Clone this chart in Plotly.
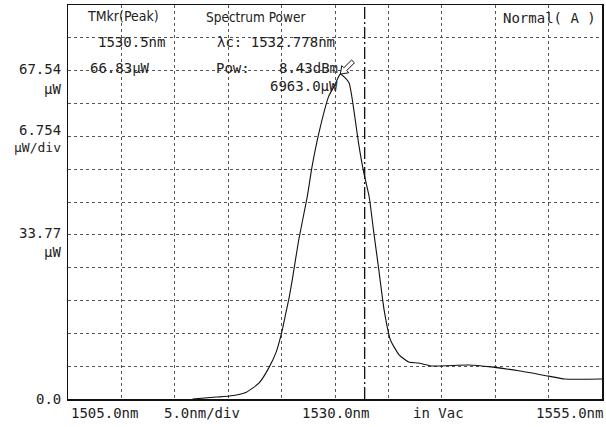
import plotly.graph_objects as go

# ---- data ----
wavelength_nm = [1516.66, 1518.9, 1520.1, 1521.7, 1522.9, 1523.8, 1524.5, 1525.0, 1525.4,
                 1525.7, 1526.0, 1526.6, 1527.4, 1527.85, 1528.5, 1529.4, 1530.0, 1530.5,
                 1531.3, 1531.8, 1532.2, 1532.7, 1533.2, 1533.6, 1534.1, 1534.6, 1535.2,
                 1536.0, 1536.9, 1537.8, 1539.0, 1542.5, 1544.6, 1547.2, 1550.0, 1551.5, 1555.0]
power_uW = [0, 0.4, 0.6, 1.4, 3.3, 6.4, 9.7, 13.6, 17.7,
            20.8, 24.5, 32.7, 41.6, 47.8, 54.8, 62.2, 64.7, 66.83,
            65.1, 58.9, 52.7, 46.5, 41.6, 34.8, 26.6, 18.3, 12.1,
            9.1, 7.6, 7.4, 6.8, 7.0, 6.6, 5.8, 4.7, 4.1, 4.1]

x_start, x_stop, x_div = 1505.0, 1555.0, 5.0
y_div = 6.754
n_ydiv = 12
peak_wl, peak_pw = 1530.5, 66.83
center_wl = 1532.778

MONO = "DejaVu Sans Mono"
COND = "DejaVu Sans Condensed"
W, H = 606, 427
ML, MR, MT, MB = 68, 2, 5, 28
PW, PH = W - ML - MR, H - MT - MB

def px(x):
    return (x - ML) / PW

def py(y):
    return (H - MB - y) / PH

fig = go.Figure()
fig.add_trace(go.Scatter(x=wavelength_nm, y=power_uW, mode="lines",
                         line=dict(color="#111111", width=1.1, shape="spline", smoothing=0.5),
                         hoverinfo="skip"))

fig.add_vline(x=center_wl, line=dict(color="#111111", width=1.3, dash="12px,3px,2px,3px"))

# hollow arrow marker at the peak (pixel offsets relative to the peak point)
arrow_path = ("M 0 0 L 1.4 8.5 L 3.5 6.4 L 11.3 14.1 L 14.1 11.3 "
              "L 6.4 3.5 L 8.5 1.4 Z")
fig.add_shape(type="path", xref="x", yref="y", xsizemode="pixel", ysizemode="pixel",
              xanchor=peak_wl, yanchor=peak_pw, path=arrow_path,
              line=dict(color="#111111", width=1), fillcolor="white")

ann = []
def text(s, x, y, xanchor="left", size=14, family=MONO):
    ann.append(dict(text=s, x=px(x), y=py(y), xref="paper", yref="paper",
                    xanchor=xanchor, yanchor="middle", showarrow=False,
                    font=dict(family=family, size=size, color="#222222")))

# in-plot texts
text("TMkr(Peak)", 85, 16, size=14, family=COND)
text("1530.5nm", 96, 42)
text("66.83µW", 88, 68)
text("Spectrum Power", 205, 17, size=13.5, family=COND)
text("λc: 1532.778nm", 216, 42)
text("Pow:", 215, 68)
text("8.43dBm", 341, 68, "right")
text("6963.0µW", 341, 86, "right")
text("Normal( A )", 600, 18, "right")

# left labels
text("67.54", 63, 69, "right")
text("µW", 63, 89, "right")
text("6.754", 63, 130, "right")
text("µW/div", 63, 147, "right", size=13)
text("33.77", 63, 233, "right")
text("µW", 63, 252, "right")
text("0.0", 63, 399, "right")

# bottom labels
text("1505.0nm", 69, 413)
text("5.0nm/div", 162, 413)
text("1530.0nm", 336, 413, "center")
text("in Vac", 412, 413)
text("1555.0nm", 607, 413, "right")

fig.update_layout(
    width=W, height=H, margin=dict(l=ML, r=MR, t=MT, b=MB),
    paper_bgcolor="white", plot_bgcolor="white", showlegend=False,
    annotations=ann,
    xaxis=dict(range=[x_start, x_stop], dtick=x_div, tick0=x_start,
               showticklabels=False, ticks="", showgrid=True,
               gridcolor="#555555", griddash="dot", gridwidth=1,
               showline=True, linecolor="#111111", linewidth=1.5, mirror=True,
               zeroline=False, fixedrange=True),
    yaxis=dict(range=[0, n_ydiv * y_div], dtick=y_div, tick0=0,
               showticklabels=False, ticks="", showgrid=True,
               gridcolor="#555555", griddash="dot", gridwidth=1,
               showline=True, linecolor="#111111", linewidth=1.5, mirror=True,
               zeroline=False, fixedrange=True),
)

fig.write_html("out.html", config={"displayModeBar": False, "staticPlot": True},
               post_script="document.body.style.margin='0';document.body.style.overflow='hidden';")
